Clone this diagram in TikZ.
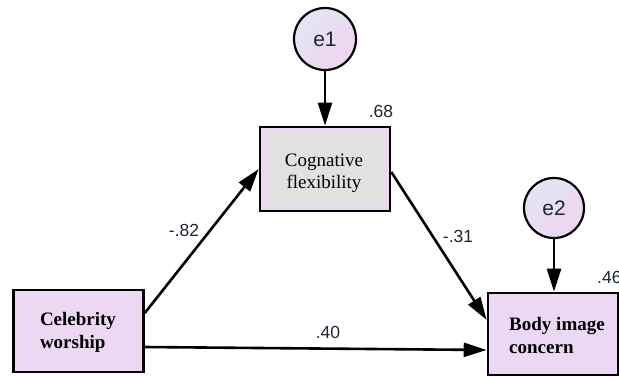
\documentclass[tikz,border=0pt]{standalone}
\usepackage{fontspec}
\setmainfont{Liberation Serif}
\newfontfamily\arialf{Liberation Sans}
\usetikzlibrary{arrows.meta,shapes.geometric}
\definecolor{boxpurple}{HTML}{ECD8F3}
\definecolor{innergray}{HTML}{E1E1E1}
\definecolor{circA}{HTML}{E2E6F4}
\definecolor{circB}{HTML}{EFD4F0}
\definecolor{numcol}{HTML}{1E2536}
\tikzset{
  varbox/.style={draw=black, line width=2.6pt, fill=boxpurple, minimum width=130pt, minimum height=82pt, inner sep=0pt},
  errc/.style={circle, draw=black, line width=2.2pt, minimum size=62pt, inner sep=0pt, left color=circA, right color=circB, shading angle=45, text=numcol, font=\arialf\fontsize{21}{22}\selectfont},
  path/.style={line width=2.6pt, -{Triangle[length=23pt,width=14pt]}},
  coef/.style={font=\arialf\fontsize{17.5}{18}\selectfont, inner sep=0pt, text=numcol}
}
\begin{document}
\begin{tikzpicture}[x=1pt,y=-1pt]
\useasboundingbox (0,0) rectangle (619,376);
\node[varbox] (cw) at (78.5,331) {};
\node[align=left, font=\bfseries\fontsize{19}{23}\selectfont] (cwt) at (78,332) {Celebrity\\worship};
\node[varbox, minimum height=84pt] (cog) at (325,169) {};
\node[fill=innergray, minimum width=120pt, minimum height=74pt, inner sep=0pt] (cogin) at (324.5,168.5) {};
\node[align=center, font=\fontsize{19}{22}\selectfont] (cogt) at (324,173) {Cognative\\flexibility};
\node[varbox] (body) at (553,334) {};
\node[align=left, font=\bfseries\fontsize{19}{23}\selectfont] (bodyt) at (557,335) {Body image\\concern};
\node[errc] (e1) at (325,39) {e1};
\node[errc, minimum size=60pt] (e2) at (554,208) {e2};
\draw[path] (e1.south) -- (cog.north);
\draw[path] (e2.south) -- (body.north -| e2.south);
\draw[path] ([yshift=18pt]cw.east) -- (cog.west);
\draw[path] ([yshift=-3pt]cog.east) -- ([yshift=14pt]body.west);
\draw[path] ([yshift=-16pt]cw.east) -- ([yshift=-16pt]body.west);
\node[coef] (r68) at (381,111) {.68};
\node[coef, anchor=west] (r46) at (597,277) {.46};
\node[coef] (p1) at (184,230) {-.82};
\node[coef] (p2) at (458,236) {-.31};
\node[coef] (p3) at (328,332) {.40};
\end{tikzpicture}
\end{document}
